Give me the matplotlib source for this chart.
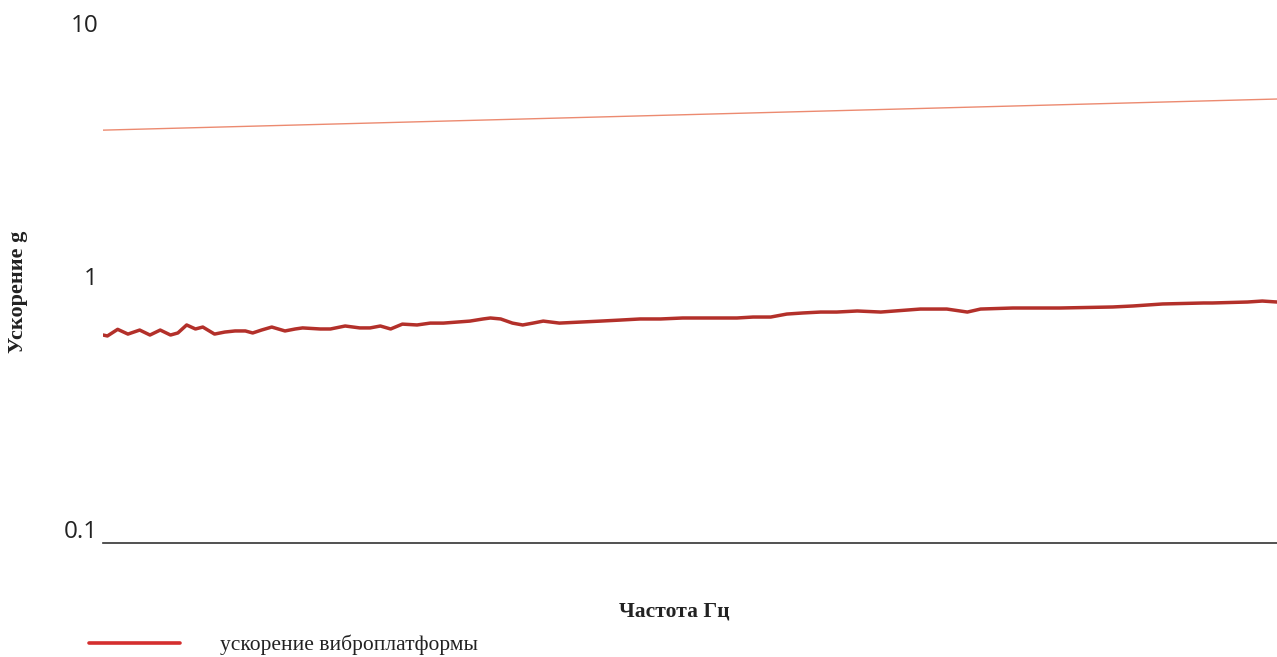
import matplotlib
matplotlib.use("Agg")
import matplotlib.pyplot as plt
from matplotlib.ticker import FixedLocator, FixedFormatter, NullLocator

# Frequency, Hz, and measured platform acceleration, g
freq = [20.0, 20.3, 21.0, 21.7, 22.5, 23.2, 23.9, 24.6, 25.1, 25.7, 26.3, 26.8,
        27.6, 28.3, 29.0, 29.7, 30.2, 30.8, 31.5, 32.4, 33.1, 33.6, 34.8, 35.5,
        36.5, 37.5, 38.2, 38.9, 39.6, 40.4, 41.4, 42.3, 43.2, 44.1, 45.0, 45.9,
        46.4, 47.1, 47.9, 48.6, 49.3, 50.0, 51.1, 52.5, 53.9, 55.2, 56.6, 58.0,
        59.5, 60.9, 62.0, 63.2, 64.3, 65.5, 66.6, 67.7, 68.9, 70.0, 71.4, 73.0,
        75.7, 77.5, 78.9, 79.8, 82.0, 85.2, 88.8, 90.2, 92.2, 95.0, 95.6, 98.0,
        99.0, 100.0]
accel = [0.584, 0.579, 0.615, 0.589, 0.611, 0.584, 0.611, 0.584, 0.595, 0.640, 0.617, 0.628,
         0.589, 0.600, 0.606, 0.606, 0.595, 0.611, 0.628, 0.606, 0.617, 0.623, 0.617, 0.617,
         0.634, 0.623, 0.623, 0.634, 0.617, 0.645, 0.640, 0.651, 0.651, 0.657, 0.663, 0.676,
         0.682, 0.676, 0.651, 0.640, 0.651, 0.663, 0.651, 0.657, 0.663, 0.669, 0.676, 0.676,
         0.682, 0.682, 0.682, 0.682, 0.688, 0.688, 0.707, 0.714, 0.720, 0.720, 0.727, 0.720,
         0.740, 0.740, 0.720, 0.740, 0.747, 0.747, 0.754, 0.761, 0.775, 0.782, 0.782, 0.789,
         0.796, 0.789]

# Upper limit line, g
limit_freq = [20.0, 100.0]
limit_accel = [3.78, 5.02]

y_ticks = [0.1, 1, 10]
y_tick_labels = ["0.1", "1", "10"]

fig = plt.figure(figsize=(12.77, 6.57), dpi=100)
ax = fig.add_axes([103 / 1277, 1 - 543 / 657, 1 - 103 / 1277, 543 / 657])

ax.plot(limit_freq, limit_accel, color="#ec8a70", lw=1.0)
ax.plot(freq, accel, color="#b3302a", lw=2.5, solid_joinstyle="round",
        solid_capstyle="round", label="ускорение виброплатформы")

ax.set_yscale("log")
ax.set_xlim(20, 100)
ax.set_ylim(0.0877, 12.38)

ax.yaxis.set_major_locator(FixedLocator(y_ticks))
ax.yaxis.set_major_formatter(FixedFormatter(y_tick_labels))
ax.yaxis.set_minor_locator(NullLocator())
ax.xaxis.set_major_locator(NullLocator())
ax.xaxis.set_minor_locator(NullLocator())
ax.tick_params(axis="y", length=0, pad=3.5, labelsize=17.5, labelcolor="#222222")
for lab in ax.get_yticklabels():
    lab.set_family("Open Sans")

for side in ("top", "right", "left"):
    ax.spines[side].set_visible(False)
ax.spines["bottom"].set_color("#333333")
ax.spines["bottom"].set_linewidth(1.2)

fig.text(18 / 1277, 1 - 292 / 657, "Ускорение g", rotation=90, ha="center", va="center",
         family="Liberation Serif", fontweight="bold", fontsize=16, color="#222222")
fig.text(674 / 1277, 1 - 612 / 657, "Частота Гц", ha="center", va="center",
         family="Liberation Serif", fontweight="bold", fontsize=15.5, color="#222222")

leg = ax.legend(loc="center left", bbox_to_anchor=(70 / 1277, 1 - 645 / 657),
                bbox_transform=fig.transFigure, frameon=False,
                handlelength=4.2, handletextpad=1.85,
                prop={"family": "Liberation Serif", "size": 15.5})
leg.get_lines()[0].set_color("#d42e2e")
leg.get_lines()[0].set_linewidth(2.6)
for t in leg.get_texts():
    t.set_color("#222222")

fig.savefig("out.png", dpi=100)
